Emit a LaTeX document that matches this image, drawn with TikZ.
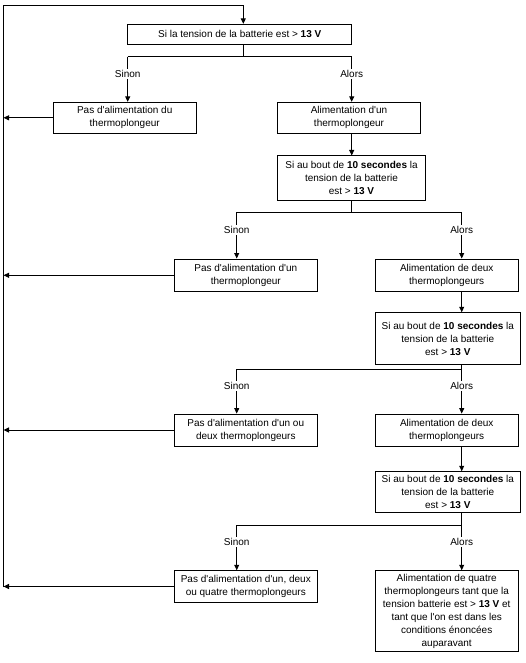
\documentclass[tikz,border=0pt]{standalone}
\usepackage{fontspec}
\setmainfont{Liberation Sans}
\usetikzlibrary{arrows.meta}
\newcommand{\apo}{\textquotesingle}
\begin{document}
\begin{tikzpicture}[x=1pt,y=-1pt,
  box/.style={draw, line width=0.9pt, align=center, inner sep=0pt, font=\fontsize{10}{13}\selectfont},
  conn/.style={line width=0.9pt},
  arr/.style={conn, -{Triangle[length=5.5pt,width=5pt]}},
  lbl/.style={fill=white, inner sep=1.5pt, font=\fontsize{10}{12}\selectfont, pos=0.38}]
\useasboundingbox (0,0) rectangle (525,663);

% boxes
\node[box, minimum width=224pt, minimum height=20pt] (b1) at (239.7,34.3)
  {Si la tension de la batterie est > \textbf{13 V}};
\node[box, minimum width=142.7pt, minimum height=31pt] (b2) at (124.7,117.8)
  {Pas d\apo alimentation du\\thermoplongeur};
\node[box, minimum width=143.4pt, minimum height=31pt] (b3) at (349,117.8)
  {Alimentation d\apo un\\thermoplongeur};
\node[box, minimum width=148.4pt, minimum height=44.7pt] (b4) at (351.5,178.3)
  {Si au bout de \textbf{10 secondes} la\\tension de la batterie\\est > \textbf{13 V}};
\node[box, minimum width=143pt, minimum height=32.7pt] (b5) at (245.8,275.3)
  {Pas d\apo alimentation d\apo un\\thermoplongeur};
\node[box, minimum width=143.3pt, minimum height=32.7pt] (b6) at (446.7,275.3)
  {Alimentation de deux\\thermoplongeurs};
\node[box, minimum width=145.7pt, minimum height=51.6pt] (b7) at (447.8,338.5)
  {Si au bout de \textbf{10 secondes} la\\tension de la batterie\\est > \textbf{13 V}};
\node[box, minimum width=143pt, minimum height=32pt] (b8) at (245.8,430)
  {Pas d\apo alimentation d\apo un ou\\deux thermoplongeurs};
\node[box, minimum width=143.3pt, minimum height=32pt] (b9) at (446.7,430)
  {Alimentation de deux\\thermoplongeurs};
\node[box, minimum width=145.7pt, minimum height=40.6pt] (b10) at (447.8,492)
  {Si au bout de \textbf{10 secondes} la\\tension de la batterie\\est > \textbf{13 V}};
\node[box, minimum width=143pt, minimum height=31.6pt] (b11) at (245.8,586.5)
  {Pas d\apo alimentation d\apo un, deux\\ou quatre thermoplongeurs};
\node[box, minimum width=143.3pt, minimum height=81pt] (b12) at (446.7,611.2)
  {Alimentation de quatre\\thermoplongeurs tant que la\\tension batterie est > \textbf{13 V} et\\tant que l\apo on est dans les\\conditions énoncées\\auparavant};

% coordinates
\coordinate (top) at (3.5,5.5);
\coordinate (bot) at (3.5,587.3);
\coordinate (c1) at (243.3,56.7);
\coordinate (l1) at (127.7,56.7);
\coordinate (r1) at (351.7,56.7);
\coordinate (c2) at (351.7,212.3);
\coordinate (l2) at (236.7,212.3);
\coordinate (r2) at (461.7,212.3);
\coordinate (l3) at (236.7,369.3);
\coordinate (r3) at (461.7,369.3);
\coordinate (l4) at (236.7,525);
\coordinate (r4) at (461.7,525);

% feedback loop
\draw[conn] (bot) -- (top);
\draw[arr] (top) -| (b1.north -| c1);

% level 1
\draw[conn] (b1.south -| c1) -- (c1);
\draw[conn] (l1) -- (r1);
\draw[arr] (l1) -- node[lbl] {Sinon} (b2.north -| l1);
\draw[arr] (r1) -- node[lbl] {Alors} (b3.north -| r1);
\draw[arr] (b2.west) -- (b2.west -| top);
\draw[arr] (b3.south -| r1) -- (b4.north -| r1);

% level 2
\draw[conn] (b4.south -| c2) -- (c2);
\draw[conn] (l2) -- (r2);
\draw[arr] (l2) -- node[lbl] {Sinon} (b5.north -| l2);
\draw[arr] (r2) -- node[lbl] {Alors} (b6.north -| r2);
\draw[arr] (b5.west) -- (b5.west -| top);
\draw[arr] (b6.south -| r2) -- (b7.north -| r2);

% level 3
\draw[conn] (b7.south -| r3) -- (r3);
\draw[conn] (l3) -- (r3);
\draw[arr] (l3) -- node[lbl] {Sinon} (b8.north -| l3);
\draw[arr] (r3) -- node[lbl] {Alors} (b9.north -| r3);
\draw[arr] (b8.west) -- (b8.west -| top);
\draw[arr] (b9.south -| r3) -- (b10.north -| r3);

% level 4
\draw[conn] (b10.south -| r4) -- (r4);
\draw[conn] (l4) -- (r4);
\draw[arr] (l4) -- node[lbl] {Sinon} (b11.north -| l4);
\draw[arr] (r4) -- node[lbl] {Alors} (b12.north -| r4);
\draw[arr] (b11.west) -- (b11.west -| top);
\end{tikzpicture}
\end{document}
